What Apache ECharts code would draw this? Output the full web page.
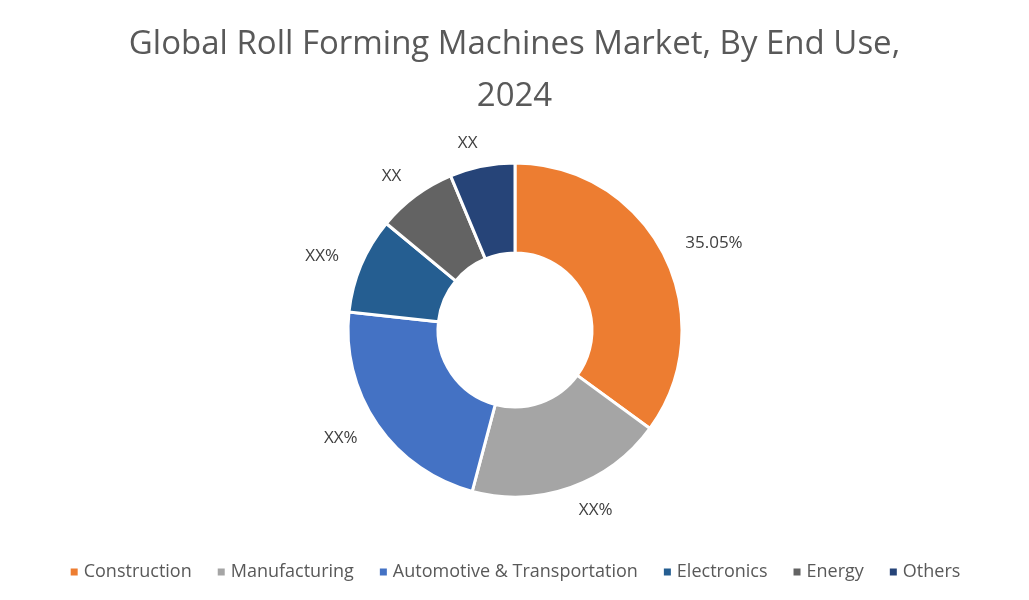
<!DOCTYPE html>
<html>
<head>
<meta charset="utf-8">
<script src="https://cdn.jsdelivr.net/npm/echarts@6/dist/echarts.min.js"></script>
<style>html,body{margin:0;padding:0;background:#fff}#chart{width:1029px;height:600px}</style>
</head>
<body>
<div id="chart"></div>
<script>
var categories = ['Construction', 'Manufacturing', 'Automotive & Transportation', 'Electronics', 'Energy', 'Others'];
var values = [35.05, 19.1, 22.6, 9.3, 7.7, 6.3];
var labels = ['35.05%', 'XX%', 'XX%', 'XX%', 'XX', 'XX'];
var colors = ['#ED7D31', '#A5A5A5', '#4472C4', '#255E91', '#636363', '#264478'];

var chart = echarts.init(document.getElementById('chart'));
var data = categories.map(function (c, i) {
    return { name: c, value: values[i], label: { formatter: labels[i] } };
});
chart.setOption({
    color: colors,
    title: {
        text: 'Global Roll Forming Machines Market, By End Use,\n2024',
        left: 'center',
        top: 14,
        textStyle: { fontFamily: 'Open Sans', fontSize: 33, fontWeight: 'normal', color: '#595959', lineHeight: 52 }
    },
    legend: {
        bottom: 14,
        left: 'center',
        icon: 'rect',
        itemWidth: 9,
        itemHeight: 9,
        itemGap: 24,
        textStyle: { fontFamily: 'Open Sans', fontSize: 18, color: '#595959' }
    },
    series: [{
        type: 'pie',
        center: [515, 330],
        radius: [77, 167],
        startAngle: 90,
        clockwise: true,
        itemStyle: { borderColor: '#fff', borderWidth: 3 },
        label: { position: 'outside', fontFamily: 'Open Sans', fontSize: 17, color: '#404040', distanceToLabelLine: 0 },
        labelLine: { show: false, length: 24, length2: 0 },
        data: data
    }]
});
</script>
</body>
</html>
